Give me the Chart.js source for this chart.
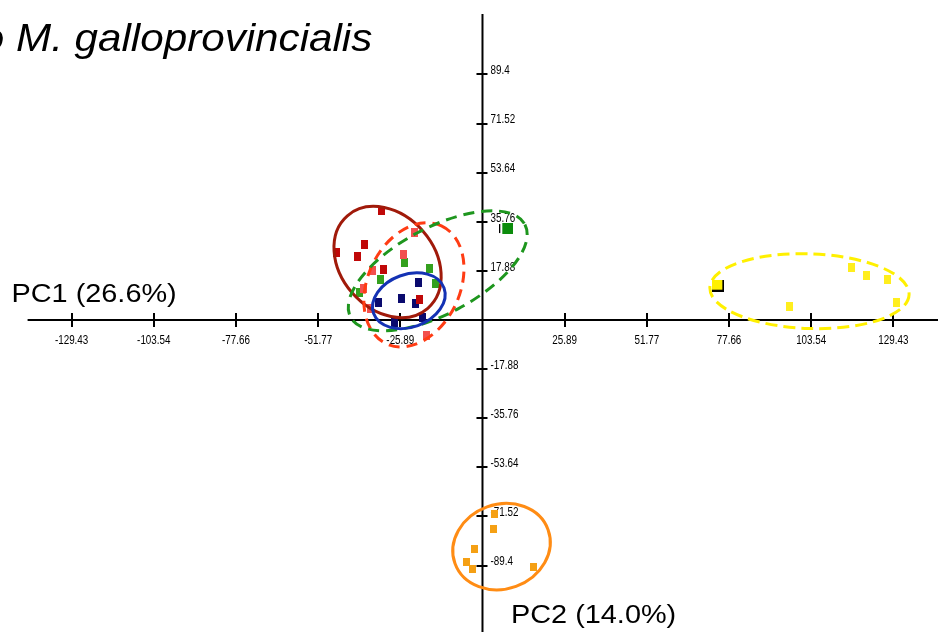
<!DOCTYPE html>
<html>
<head>
<meta charset="utf-8">
<script src="https://cdn.jsdelivr.net/npm/chart.js@4/dist/chart.umd.min.js"></script>
<style>
  html, body { margin: 0; padding: 0; background: #ffffff; }
  canvas { display: block; }
</style>
</head>
<body>
<canvas id="c" width="938" height="632"></canvas>
<script>
// ---------- DATA ----------
const titleText = "to M. galloprovincialis";
const pc1Label = "PC1 (26.6%)";
const pc2Label = "PC2 (14.0%)";

const xTickValues = [-129.43, -103.54, -77.66, -51.77, -25.89, 25.89, 51.77, 77.66, 103.54, 129.43];
const xTickLabels = ["-129.43", "-103.54", "-77.66", "-51.77", "-25.89", "25.89", "51.77", "77.66", "103.54", "129.43"];
const yTickValues = [89.4, 71.52, 53.64, 35.76, 17.88, -17.88, -35.76, -53.64, -71.52, -89.4];
const yTickLabels = ["89.4", "71.52", "53.64", "35.76", "17.88", "-17.88", "-35.76", "-53.64", "-71.52", "-89.4"];

// group scores [PC1, PC2]
const darkRedPts = [[-31.7, 39.9], [-37.1, 27.6], [-45.9, 24.4], [-39.4, 23.2], [-31.1, 18.2], [-19.9, 7.4]];
const lightRedPts = [[-21.3, 31.9], [-25.0, 23.8], [-34.7, 17.9], [-37.6, 11.3], [-35.3, 4.2], [-17.6, -5.6]];
const greenPts = [[-24.7, 20.8], [-16.6, 18.7], [-32.2, 14.9], [-14.8, 13.1], [-38.7, 10.1]];
const greenRefPts = [[7.5, 33.3]];
const navyPts = [[-20.3, 13.7], [-32.8, 6.5], [-25.6, 7.8], [-21.0, 6.0], [-19.0, 0.8], [-27.8, -1.0]];
const yellowPts = [[116.3, 19.0], [121.0, 16.1], [127.5, 14.9], [130.4, 6.5], [96.8, 4.8]];
const yellowRefPts = [[74.3, 12.5]];
const orangePts = [[3.8, -70.8], [3.5, -76.2], [-2.4, -83.3], [-5.0, -88.1], [-3.1, -90.8], [16.0, -89.9]];

// group ellipses: centre (PC1, PC2), semi-axes (PC1 units, PC2 units), tilt in degrees
const ellipseCx = [-29.9, -21.6, -14.1, -23.2, 103.0, 6.0];
const ellipseCy = [21.1, 12.8, 17.9, 7.0, 10.5, -82.5];
const ellipseRx = [19.3, 20.5, 31.1, 11.8, 31.4, 15.6];
const ellipseRy = [17.1, 16.8, 15.7, 9.6, 13.6, 15.4];
const ellipseTilt = [49, -65, -28, -20, 2, -20];

// ---------- STYLES ----------
const ellipseStyles = [
  { color: '#a01a0a', dash: [] },
  { color: '#ff3c14', dash: [11, 7] },
  { color: '#1e961e', dash: [11, 7] },
  { color: '#1432b4', dash: [] },
  { color: '#fff000', dash: [12, 6] },
  { color: '#ff8c14', dash: [] }
];

function marker(color, w, h) {
  const c = document.createElement('canvas');
  c.width = w; c.height = h;
  const g = c.getContext('2d');
  g.fillStyle = color;
  g.fillRect(0, 0, w, h);
  return c;
}
function greenRefMarker() {
  const c = document.createElement('canvas');
  c.width = 14; c.height = 11;
  const g = c.getContext('2d');
  g.fillStyle = '#000000';
  g.fillRect(0, 1, 1, 9);
  g.fillStyle = '#0c8c0c';
  g.fillRect(3, 0, 11, 11);
  return c;
}
function yellowRefMarker() {
  const c = document.createElement('canvas');
  c.width = 12; c.height = 12;
  const g = c.getContext('2d');
  g.fillStyle = '#000000';
  g.fillRect(0, 0, 12, 12);
  g.fillStyle = '#fff000';
  g.fillRect(0, 0, 10, 10);
  return c;
}

const toXY = arr => arr.map(p => ({ x: p[0], y: p[1] }));

const datasets = [
  { data: toXY(lightRedPts), pointStyle: marker('#f2504e', 7, 9) },
  { data: toXY(darkRedPts), pointStyle: marker('#c00808', 7, 9) },
  { data: toXY(greenPts), pointStyle: marker('#34a01e', 7, 9) },
  { data: toXY(greenRefPts), pointStyle: greenRefMarker() },
  { data: toXY(navyPts), pointStyle: marker('#0a0a6e', 7, 9) },
  { data: toXY(yellowPts), pointStyle: marker('#ffee1e', 7, 9) },
  { data: toXY(yellowRefPts), pointStyle: yellowRefMarker() },
  { data: toXY(orangePts), pointStyle: marker('#f5a014', 7, 8) }
].map(d => Object.assign(d, { showLine: false, pointRadius: 5 }));

// axis extents (data units)
const axisXStart = -143.3;
const axisYTop = 111.4;

function narrowText(ctx, text, x, y, align) {
  ctx.save();
  ctx.translate(x, y);
  ctx.scale(0.82, 1);
  ctx.textAlign = align;
  ctx.fillText(text, 0, 0);
  ctx.restore();
}

const axesPlugin = {
  id: 'crossAxes',
  beforeDatasetsDraw(chart) {
    const ctx = chart.ctx, xs = chart.scales.x, ys = chart.scales.y;
    const x0 = xs.getPixelForValue(0), y0 = ys.getPixelForValue(0);
    ctx.save();
    ctx.strokeStyle = '#000000';
    ctx.lineWidth = 2;
    ctx.beginPath();
    ctx.moveTo(xs.getPixelForValue(axisXStart), y0);
    ctx.lineTo(chart.width, y0);
    ctx.moveTo(x0, ys.getPixelForValue(axisYTop));
    ctx.lineTo(x0, chart.height);
    ctx.stroke();
    // tick marks
    ctx.beginPath();
    xTickValues.forEach(v => {
      const px = Math.round(xs.getPixelForValue(v));
      ctx.moveTo(px, y0 - 7); ctx.lineTo(px, y0 + 7);
    });
    yTickValues.forEach(v => {
      const py = Math.round(ys.getPixelForValue(v));
      ctx.moveTo(x0 - 6, py); ctx.lineTo(x0 + 5, py);
    });
    ctx.stroke();
    // labels
    ctx.fillStyle = '#000000';
    ctx.font = "12px 'Liberation Sans', Arial, sans-serif";
    ctx.textBaseline = 'middle';
    xTickValues.forEach((v, i) => {
      narrowText(ctx, xTickLabels[i], xs.getPixelForValue(v), y0 + 20.5, 'center');
    });
    yTickValues.forEach((v, i) => {
      narrowText(ctx, yTickLabels[i], x0 + 8, ys.getPixelForValue(v) - 3.5, 'left');
    });
    ctx.restore();
  }
};

const ellipsePlugin = {
  id: 'groupEllipses',
  afterDatasetsDraw(chart) {
    const ctx = chart.ctx, xs = chart.scales.x, ys = chart.scales.y;
    const pxX = Math.abs(xs.getPixelForValue(1) - xs.getPixelForValue(0));
    const pxY = Math.abs(ys.getPixelForValue(1) - ys.getPixelForValue(0));
    ellipseCx.forEach((cx, i) => {
      const st = ellipseStyles[i];
      ctx.save();
      ctx.strokeStyle = st.color;
      ctx.lineWidth = 3;
      ctx.setLineDash(st.dash);
      ctx.beginPath();
      ctx.ellipse(xs.getPixelForValue(cx), ys.getPixelForValue(ellipseCy[i]),
        ellipseRx[i] * pxX, ellipseRy[i] * pxY, ellipseTilt[i] * Math.PI / 180, 0, Math.PI * 2);
      ctx.stroke();
      ctx.restore();
    });
  }
};

function stretchedText(ctx, text, x, y, font, sx) {
  ctx.save();
  ctx.font = font;
  ctx.translate(x, y);
  ctx.scale(sx, 1);
  ctx.textAlign = 'left';
  ctx.textBaseline = 'alphabetic';
  ctx.fillStyle = '#000000';
  ctx.fillText(text, 0, 0);
  ctx.restore();
}

const textPlugin = {
  id: 'texts',
  afterDraw(chart) {
    const ctx = chart.ctx;
    const tFont = "italic 38px 'Liberation Sans', Arial, sans-serif";
    ctx.save();
    ctx.font = tFont;
    const off = ctx.measureText("to ").width * 1.11;
    ctx.restore();
    stretchedText(ctx, titleText, 16 - off, 50.7, tFont, 1.11);
    const lFont = "26px 'Liberation Sans', Arial, sans-serif";
    stretchedText(ctx, pc1Label, 11.5, 301.7, lFont, 1.11);
    stretchedText(ctx, pc2Label, 511, 623.3, lFont, 1.11);
  }
};

new Chart(document.getElementById('c'), {
  type: 'scatter',
  data: { datasets },
  options: {
    responsive: false,
    animation: false,
    devicePixelRatio: 1,
    events: [],
    layout: { padding: 0 },
    scales: {
      x: { type: 'linear', min: -150.1, max: 141.6, display: false },
      y: { type: 'linear', min: -111.4, max: 114.3, display: false }
    },
    plugins: { legend: { display: false }, tooltip: { enabled: false } }
  },
  plugins: [axesPlugin, ellipsePlugin, textPlugin]
});
</script>
</body>
</html>
